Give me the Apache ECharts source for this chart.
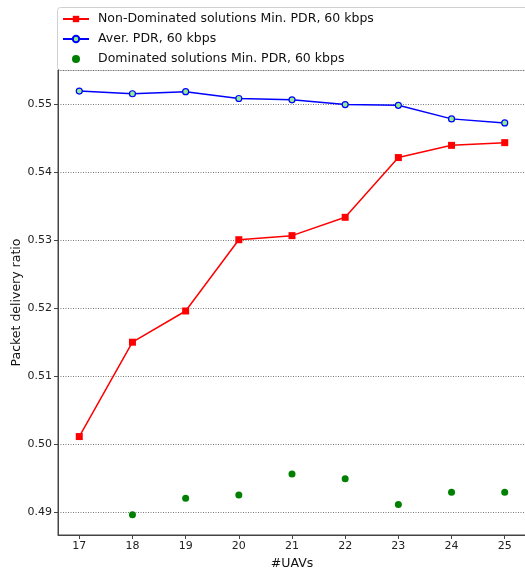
<!DOCTYPE html>
<html>
<head>
<meta charset="utf-8">
<script src="https://cdn.jsdelivr.net/npm/echarts@6/dist/echarts.min.js"></script>
<style>
  html, body { margin: 0; padding: 0; background: #fff; }
  #chart { width: 525px; height: 574px; }
</style>
</head>
<body>
<div id="chart"></div>
<script>
// Number of UAVs on the x axis
const uavs = [17, 18, 19, 20, 21, 22, 23, 24, 25];

// Minimum PDR of the non-dominated solutions
const nonDominatedMin = [0.5011, 0.5150, 0.5196, 0.5301, 0.5307, 0.5334, 0.5422, 0.5440, 0.5444];

// Average PDR
const averagePdr = [0.5520, 0.5516, 0.5519, 0.5509, 0.5507, 0.5500, 0.5499, 0.5479, 0.5473];

// Minimum PDR of the dominated solutions (none at 17 UAVs)
const dominatedUavs = [18, 19, 20, 21, 22, 23, 24, 25];
const dominatedMin = [0.4896, 0.4920, 0.4925, 0.4956, 0.4949, 0.4911, 0.4929, 0.4929];

const seriesNames = [
  'Non-Dominated solutions Min. PDR, 60 kbps',
  'Aver. PDR, 60 kbps',
  'Dominated solutions Min. PDR, 60 kbps'
];

const pairs = (xs, ys) => xs.map((x, i) => [x, ys[i]]);
const FONT = 'DejaVu Sans';

const chart = echarts.init(document.getElementById('chart'), null, { renderer: 'canvas' });

chart.setOption({
  animation: false,
  backgroundColor: '#ffffff',
  textStyle: { fontFamily: FONT },
  graphic: [{
    type: 'rect',
    left: 57, top: 7,
    shape: { width: 480, height: 63, r: 3 },
    style: { fill: '#ffffff', stroke: '#d0d0d0', lineWidth: 1 },
    z: 0
  }],
  legend: {
    orient: 'vertical',
    left: 62, top: 12,
    padding: 0,
    itemWidth: 26, itemHeight: 8, itemGap: 6,
    textStyle: { fontFamily: FONT, fontSize: 12.5, color: '#111', lineHeight: 14, padding: [0, 0, 0, 4] },
    data: seriesNames,
    z: 5
  },
  grid: {
    left: 58, top: 70, width: 468, height: 465,
    outerBoundsMode: 'none',
    containLabel: false,
    show: true, borderColor: '#444', borderWidth: 1, backgroundColor: 'transparent'
  },
  xAxis: {
    type: 'value',
    min: 16.6, max: 25.4,
    minInterval: 1, maxInterval: 1,
    name: '#UAVs', nameLocation: 'middle', nameGap: 22,
    nameMoveOverlap: false,
    nameTextStyle: { fontFamily: FONT, fontSize: 12.5, color: '#111' },
    axisLine: { show: true, onZero: false, lineStyle: { color: '#444', width: 1 } },
    axisTick: { show: true, length: 4, lineStyle: { color: '#444' } },
    axisLabel: {
      fontFamily: FONT, fontSize: 11, color: '#222', margin: 6,
      showMinLabel: false, showMaxLabel: false,
      formatter: v => Math.abs(v - Math.round(v)) < 1e-6 ? String(Math.round(v)) : ''
    },
    splitLine: { show: false }
  },
  yAxis: {
    type: 'value',
    min: 0.4866, max: 0.5551,
    minInterval: 0.01, maxInterval: 0.01,
    name: 'Packet delivery ratio', nameLocation: 'middle', nameGap: 35,
    nameMoveOverlap: false,
    nameTextStyle: { fontFamily: FONT, fontSize: 12.5, color: '#111' },
    axisLine: { show: true, onZero: false, lineStyle: { color: '#444', width: 1 } },
    axisTick: { show: true, length: 4, lineStyle: { color: '#444' } },
    axisLabel: {
      fontFamily: FONT, fontSize: 11, color: '#222', margin: 6,
      showMinLabel: false, showMaxLabel: false,
      formatter: v => Math.abs(v * 100 - Math.round(v * 100)) < 1e-6 ? v.toFixed(2) : ''
    },
    splitLine: { show: true, lineStyle: { color: '#555', width: 0.8, type: [1, 1.5] } }
  },
  series: [
    {
      name: seriesNames[0],
      type: 'line',
      data: pairs(uavs, nonDominatedMin),
      symbol: 'rect', symbolSize: 7,
      lineStyle: { color: '#ff0000', width: 1.5 },
      itemStyle: { color: '#ff0000' },
      z: 3
    },
    {
      name: seriesNames[1],
      type: 'line',
      data: pairs(uavs, averagePdr),
      symbol: 'circle', symbolSize: 6,
      lineStyle: { color: '#0000ff', width: 1.5 },
      itemStyle: { color: '#90ee90', borderColor: '#0000ff', borderWidth: 1.2 },
      z: 3
    },
    {
      name: seriesNames[2],
      type: 'scatter',
      data: pairs(dominatedUavs, dominatedMin),
      symbol: 'circle', symbolSize: 7,
      itemStyle: { color: '#008000', opacity: 1 },
      z: 3
    }
  ]
});
</script>
</body>
</html>
